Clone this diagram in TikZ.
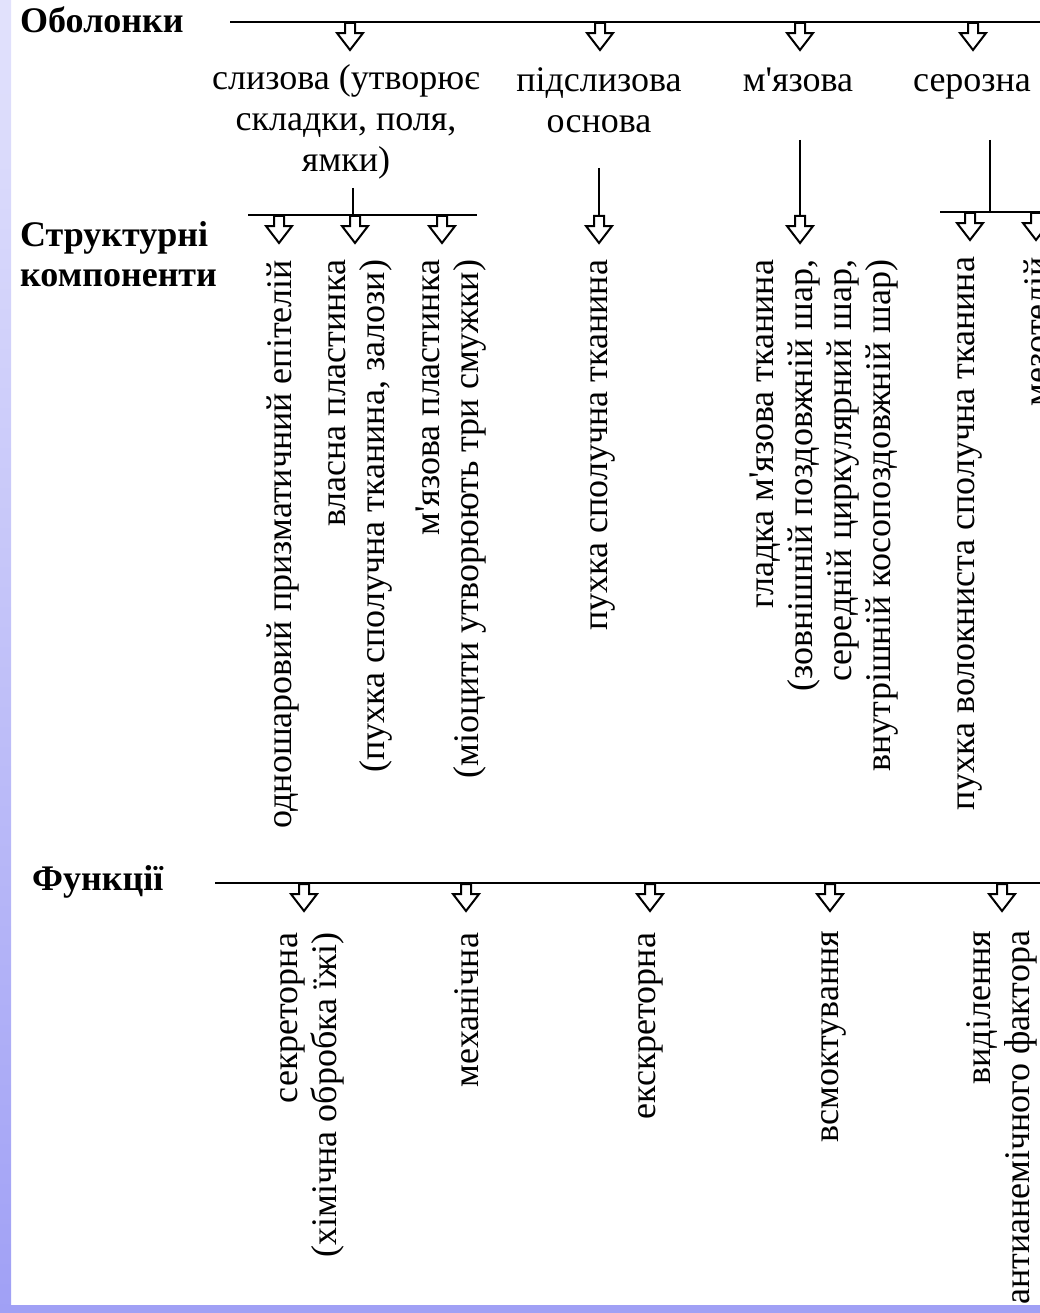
\documentclass[tikz,border=0pt]{standalone}
\usepackage{fontspec}
\setmainfont{Liberation Serif}[Ligatures=TeXOff]
\usetikzlibrary{positioning,calc,shapes.arrows}
\definecolor{stripcol}{RGB}{160,160,245}
\definecolor{striptop}{RGB}{226,226,252}

\begin{document}
\begin{tikzpicture}[x=1pt,y=-1pt,
		hdr/.style={font=\fontsize{36}{40}\selectfont\bfseries, anchor=base west, inner sep=0pt, align=left},
		lbl/.style={font=\fontsize{36}{41}\selectfont, anchor=base, inner sep=0pt, align=center},
		vlbl/.style={font=\fontsize{36}{39}\selectfont, rotate=90, anchor=east, inner sep=0pt, align=right},
		fatarrow/.style={draw, single arrow, line width=2pt, rotate=-90, anchor=tail, inner sep=4pt, minimum height=27pt, single arrow head extend=8pt, single arrow tip angle=75},
		ln/.style={line width=2.2pt}]
	\useasboundingbox (0,0) rectangle (1040,1313);
	\clip (0,0) rectangle (1040,1313);
	\shade[top color=striptop, bottom color=stripcol] (0,0) rectangle (11,1313);
	\fill[stripcol] (0,1305) rectangle (1040,1313);

	% Оболонки
	\node[hdr] (obol) at (20,33) {Оболонки};
	\coordinate (o0) at (230,22);
	\coordinate (o1) at (1050,22);
	\draw[ln] (o0) -- (o1);
	\node[fatarrow] (a1) at (350,22) {};
	\node[fatarrow] (a2) at (600,22) {};
	\node[fatarrow] (a3) at (800,22) {};
	\node[fatarrow] (a4) at (973,22) {};

	% base = last line
	\node[lbl] (sliz) at (346,172) {слизова (утворює\\складки, поля,\\ямки)};
	\node[lbl] (pidsl) at (599,133) {підслизова\\основа};
	\node[lbl] (myaz) at (798,92) {м'язова};
	\node[lbl] (seroz) at (972,92) {серозна};

	% Структурні компоненти
	\node[hdr] (struk) at (20,287) {Структурні\\компоненти};

	\coordinate (sT) at (353,188);
	\coordinate (sJ) at (353,215);
	\coordinate (sL) at (248,215);
	\coordinate (sR) at (477,215);
	\draw[ln] (sT) -- (sJ);
	\draw[ln] (sL) -- (sR);
	\node[fatarrow] (c1) at (279,215) {};
	\node[fatarrow] (c2) at (355,215) {};
	\node[fatarrow] (c3) at (442,215) {};

	\coordinate (pT) at (599,168);
	\node[fatarrow] (c4) at (599,215) {};
	\draw[ln] (pT) -- (c4.tail);

	\coordinate (mT) at (800,140);
	\node[fatarrow] (c5) at (800,215) {};
	\draw[ln] (mT) -- (c5.tail);

	\coordinate (rT) at (990,140);
	\coordinate (rJ) at (990,212);
	\coordinate (rL) at (940,212);
	\coordinate (rR) at (1050,212);
	\draw[ln] (rT) -- (rJ);
	\draw[ln] (rL) -- (rR);
	\node[fatarrow] (c6) at (970,212) {};
	\node[fatarrow] (c7) at (1036,212) {};

	\node[vlbl] (epit) at ($(c1.tip)+(4,15)$) {одношаровий призматичний епітелій};
	\node[vlbl] (vlasna) at ($(c2.tip)+(5,15)$) {власна пластинка\\(пухка сполучна тканина, залози)};
	\node[vlbl] (mplast) at ($(c3.tip)+(9,15)$) {м'язова пластинка\\(міоцити утворюють три смужки)};
	\node[vlbl] (pukhka) at ($(c4.tip)+(4,15)$) {пухка сполучна тканина};
	\node[vlbl] (gladka) at ($(c5.tip)+(24,15)$) {гладка м'язова тканина\\(зовнішній поздовжній шар,\\середній циркулярний шар,\\внутрішній косопоздовжній шар)};
	\node[vlbl] (volok) at ($(c6.tip)+(0,15)$) {пухка волокниста сполучна тканина};
	\node[vlbl] (mezo) at ($(c7.tip)+(0,15)$) {мезотелій};

	% Функції
	\node[hdr] (funk) at (32,890) {Функції};
	\coordinate (f0) at (215,883);
	\coordinate (f1) at (1050,883);
	\draw[ln] (f0) -- (f1);
	\node[fatarrow] (d1) at (304,883) {};
	\node[fatarrow] (d2) at (466,883) {};
	\node[fatarrow] (d3) at (650,883) {};
	\node[fatarrow] (d4) at (830,883) {};
	\node[fatarrow] (d5) at (1002,883) {};

	\node[vlbl] (sekr) at ($(d1.tip)+(8,20)$) {секреторна\\(хімічна обробка їжі)};
	\node[vlbl] (mekh) at ($(d2.tip)+(1,20)$) {механічна};
	\node[vlbl] (ekskr) at ($(d3.tip)+(1,20)$) {екскреторна};
	\node[vlbl] (vsmok) at ($(d4.tip)+(4,18)$) {всмоктування};
	\node[vlbl] (vydil) at ($(d5.tip)+(0,18)$) {виділення\\антианемічного фактора};
\end{tikzpicture}
\end{document}
